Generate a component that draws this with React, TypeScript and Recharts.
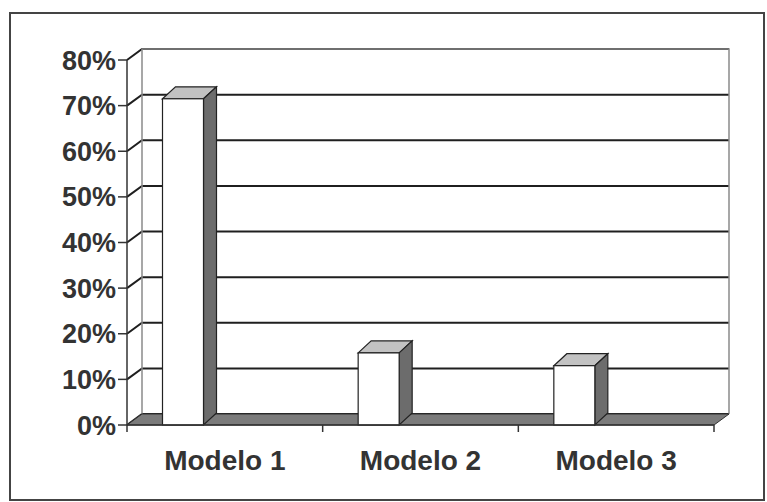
import React from 'react';
import { BarChart, Bar, XAxis, YAxis, CartesianGrid, ReferenceArea } from 'recharts';

const categories = ['Modelo 1', 'Modelo 2', 'Modelo 3'];
const shares = [0.715, 0.158, 0.13];
const yTicks = [0, 0.1, 0.2, 0.3, 0.4, 0.5, 0.6, 0.7, 0.8];

const data = categories.map((name, i) => ({ name, value: shares[i] }));

// 3D look: depth offsets of the walls and of the columns
const WX = 15;
const WY = 11;
const BX = 13;
const BY = 12;
const BAR_SHIFT = -41.5;

const FONT = '"Liberation Sans", Arial, sans-serif';
const INK = '#333';

const pct = (v: number) => `${Math.round(v * 100)}%`;

const gridLine = (p: any) => {
  const { x1, x2, y1 } = p;
  return (
    <path
      key={p.key ?? `g-${y1}`}
      d={`M${x1},${y1} L${x1 + WX},${y1 - WY} L${x2 + WX},${y1 - WY}`}
      fill="none"
      stroke="#1f1f1f"
      strokeWidth={2}
    />
  );
};

const Walls = (p: any) => {
  const { x, y, width, height } = p;
  const b = y + height;
  const n = categories.length;
  return (
    <g>
      <path
        d={`M${x + WX},${b - WY} L${x + WX},${y - WY} L${x + width + WX},${y - WY} L${x + width + WX},${b - WY}`}
        fill="none"
        stroke="#8a8a8a"
        strokeWidth={1.5}
      />
      <polygon
        points={`${x},${b} ${x + WX},${b - WY} ${x + width + WX},${b - WY} ${x + width},${b}`}
        fill="#7b7b7b"
        stroke="#333"
        strokeWidth={1}
      />
      {Array.from({ length: n + 1 }, (_, i) => (
        <line key={i} x1={x + (width * i) / n} y1={b} x2={x + (width * i) / n} y2={b + 7} stroke={INK} strokeWidth={1.5} />
      ))}
    </g>
  );
};

const Column3D = (p: any) => {
  const { x, y, width, height } = p;
  const fx = x + BAR_SHIFT;
  const r = fx + width;
  const b = y + height;
  return (
    <g>
      <polygon
        points={`${fx},${y} ${fx + BX},${y - BY} ${r + BX},${y - BY} ${r},${y}`}
        fill="#c2c2c2"
        stroke="#222"
        strokeWidth={1.2}
      />
      <polygon
        points={`${r},${y} ${r + BX},${y - BY} ${r + BX},${b - BY} ${r},${b}`}
        fill="#6c6c6c"
        stroke="#222"
        strokeWidth={1.2}
      />
      <rect x={fx} y={y} width={width} height={height} fill="#fff" stroke="#222" strokeWidth={1.2} />
    </g>
  );
};

export default function App() {
  return (
    <div style={{ position: 'absolute', left: 0, top: 0, width: 767, height: 502, background: '#fff' }}>
      <div
        style={{
          position: 'absolute',
          left: 9,
          top: 12,
          width: 752,
          height: 485,
          border: '2px solid #444',
        }}
      />
      <div style={{ position: 'absolute', left: 0, top: 0 }}>
        <BarChart width={767} height={502} data={data} margin={{ top: 60, right: 53, left: 67, bottom: 17 }}>
          <ReferenceArea y1={0} y2={0.8} shape={Walls} ifOverflow="visible" />
          <CartesianGrid vertical={false} horizontal={gridLine} />
          <XAxis
            dataKey="name"
            axisLine={{ stroke: INK, strokeWidth: 1.5 }}
            tickLine={false}
            tickSize={0}
            tickMargin={25}
            height={60}
            tick={{ fontFamily: FONT, fontSize: 28, fontWeight: 'bold', fill: INK }}
          />
          <YAxis
            domain={[0, 0.8]}
            ticks={yTicks}
            tickFormatter={pct}
            width={60}
            axisLine={{ stroke: INK, strokeWidth: 1.5 }}
            tickLine={{ stroke: INK, strokeWidth: 1.5 }}
            tickSize={9}
            tickMargin={2}
            tick={{ fontFamily: FONT, fontSize: 27, fontWeight: 'bold', fill: INK }}
          />
          <Bar dataKey="value" barSize={41} shape={Column3D} isAnimationActive={false} />
        </BarChart>
      </div>
    </div>
  );
}
